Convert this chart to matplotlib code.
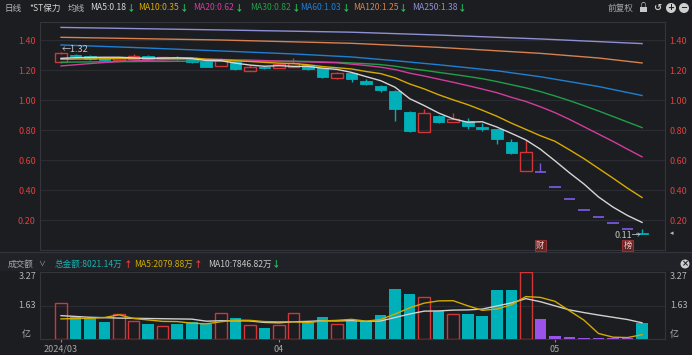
import numpy as np
import matplotlib
matplotlib.use("Agg")
import matplotlib.pyplot as plt
from matplotlib.patches import Rectangle, Circle
from matplotlib.transforms import blended_transform_factory

plt.rcParams['font.family'] = ['Noto Sans CJK SC', 'DejaVu Sans']
plt.rcParams['axes.unicode_minus'] = False

# ---- daily candles (yuan) ----
opens  = [1.255, 1.300, 1.295, 1.280, 1.267, 1.275, 1.295, 1.273, 1.282, 1.278,
          1.260, 1.227, 1.255, 1.195, 1.222, 1.215, 1.222, 1.233, 1.211, 1.144,
          1.182, 1.129, 1.096, 1.060, 0.920, 0.787, 0.893, 0.853, 0.860, 0.822,
          0.804, 0.722, 0.529, 0.520, 0.420, 0.340, 0.270, 0.220, 0.180, 0.140,
          0.115]
highs  = [1.320, 1.305, 1.300, 1.285, 1.285, 1.305, 1.300, 1.290, 1.295, 1.280,
          1.262, 1.280, 1.258, 1.233, 1.230, 1.240, 1.278, 1.236, 1.213, 1.189,
          1.184, 1.140, 1.100, 1.065, 0.925, 0.938, 0.897, 0.915, 0.880, 0.850,
          0.806, 0.740, 0.733, 0.582, 0.420, 0.340, 0.270, 0.220, 0.180, 0.140,
          0.142]
lows   = [1.250, 1.290, 1.270, 1.262, 1.262, 1.270, 1.270, 1.270, 1.270, 1.250,
          1.218, 1.225, 1.200, 1.192, 1.210, 1.212, 1.220, 1.203, 1.150, 1.142,
          1.122, 1.100, 1.055, 0.860, 0.790, 0.785, 0.850, 0.851, 0.807, 0.795,
          0.704, 0.640, 0.527, 0.520, 0.420, 0.340, 0.270, 0.220, 0.180, 0.140,
          0.110]
closes = [1.310, 1.295, 1.273, 1.267, 1.280, 1.290, 1.273, 1.285, 1.279, 1.255,
          1.222, 1.267, 1.205, 1.218, 1.215, 1.238, 1.245, 1.205, 1.156, 1.178,
          1.138, 1.104, 1.067, 0.938, 0.796, 0.911, 0.853, 0.871, 0.829, 0.809,
          0.738, 0.644, 0.651, 0.520, 0.420, 0.340, 0.270, 0.220, 0.180, 0.140,
          0.110]
limit_down = [False] * 33 + [True] * 7 + [False]

# turnover (亿)
volume = [1.75, 1.09, 1.01, 0.82, 1.21, 0.88, 0.75, 0.64, 0.75, 0.82,
          0.75, 1.26, 1.01, 0.69, 0.56, 0.69, 1.26, 0.82, 1.08, 0.72,
          0.90, 0.85, 1.18, 2.45, 2.22, 2.07, 1.37, 1.23, 1.21, 1.11,
          2.39, 2.39, 3.27, 0.98, 0.16, 0.10, 0.07, 0.06, 0.055, 0.06,
          0.802]
vol_ma5  = [0.98, 1.00, 1.01, 1.05, 1.18, 1.00, 0.93, 0.86, 0.85, 0.77,
            0.74, 0.84, 0.92, 0.91, 0.85, 0.84, 0.84, 0.80, 0.88, 0.91,
            0.96, 0.87, 0.95, 1.22, 1.52, 1.75, 1.86, 1.87, 1.62, 1.40,
            1.46, 1.67, 2.07, 2.03, 1.84, 1.38, 0.92, 0.27, 0.09, 0.07,
            0.21]
vol_ma10 = [1.14, 1.10, 1.06, 1.04, 1.02, 1.01, 1.00, 0.99, 0.98, 0.97,
            0.87, 0.89, 0.89, 0.88, 0.81, 0.79, 0.84, 0.86, 0.89, 0.88,
            0.90, 0.86, 0.88, 1.05, 1.22, 1.36, 1.37, 1.41, 1.42, 1.46,
            1.61, 1.76, 1.97, 1.82, 1.62, 1.42, 1.29, 1.17, 1.06, 0.95,
            0.79]

# price moving averages
ma5  = [1.278, 1.282, 1.284, 1.285, 1.285, 1.281, 1.277, 1.279, 1.281, 1.276,
        1.263, 1.262, 1.246, 1.233, 1.225, 1.229, 1.224, 1.224, 1.212, 1.204,
        1.184, 1.156, 1.129, 1.085, 1.009, 0.963, 0.913, 0.874, 0.852, 0.855,
        0.820, 0.778, 0.734, 0.672, 0.595, 0.515, 0.440, 0.354, 0.286, 0.230,
        0.184]
ma10 = [1.272, 1.273, 1.274, 1.275, 1.276, 1.277, 1.278, 1.279, 1.280, 1.281,
        1.272, 1.269, 1.262, 1.257, 1.251, 1.246, 1.243, 1.235, 1.223, 1.215,
        1.207, 1.190, 1.176, 1.148, 1.107, 1.074, 1.035, 1.001, 0.969, 0.932,
        0.892, 0.846, 0.804, 0.762, 0.725, 0.668, 0.609, 0.544, 0.479, 0.412,
        0.350]
ma20 = [1.227, 1.235, 1.243, 1.250, 1.256, 1.261, 1.265, 1.268, 1.270, 1.271,
        1.271, 1.270, 1.268, 1.266, 1.263, 1.260, 1.257, 1.254, 1.251, 1.248,
        1.239, 1.230, 1.219, 1.203, 1.179, 1.160, 1.139, 1.118, 1.096, 1.073,
        1.049, 1.018, 0.990, 0.955, 0.916, 0.871, 0.822, 0.773, 0.724, 0.672,
        0.621]
ma30 = [1.252, 1.253, 1.254, 1.255, 1.256, 1.256, 1.257, 1.257, 1.258, 1.258,
        1.258, 1.259, 1.259, 1.259, 1.259, 1.259, 1.259, 1.257, 1.254, 1.251,
        1.247, 1.242, 1.236, 1.225, 1.210, 1.198, 1.184, 1.171, 1.157, 1.142,
        1.123, 1.102, 1.081, 1.056, 1.027, 0.996, 0.962, 0.927, 0.890, 0.853,
        0.816]
ma60_x  = [0, 5, 11, 16, 20, 23, 26, 30, 33, 37, 40]
ma60    = [1.367, 1.350, 1.327, 1.307, 1.287, 1.262, 1.235, 1.195, 1.155, 1.090, 1.030]
ma120_x = [0, 11, 20, 26, 33, 37, 40]
ma120   = [1.418, 1.400, 1.378, 1.351, 1.311, 1.280, 1.247]
ma250_x = [0, 11, 20, 26, 33, 40]
ma250   = [1.484, 1.467, 1.452, 1.433, 1.407, 1.376]

date_ticks = [0, 15, 34]
date_labels = ['2024/03', '04', '05']
price_ticks = [0.20, 0.40, 0.60, 0.80, 1.00, 1.20, 1.40]

# ---- style ----
W, H = 692, 355
BG = '#1c1d21'
BAND = '#212227'
GRID = '#2b2c31'
SPINE = '#33353a'
UP = '#d23636'
DOWN = '#00b0b8'
LIM_P = '#7657dc'
LIM_V = '#9a52e8'
TXT = '#b4b4b4'
RED_LBL = '#e0403c'
FS = 6.5
HFS = 6.2
ma_cols = {'MA5': '#d6d6d6', 'MA10': '#d8ab00', 'MA20': '#d23c9e', 'MA30': '#1f9f48',
           'MA60': '#1f7fd2', 'MA120': '#d8804f', 'MA250': '#8f8fd6'}


def fx(px):
    return px / W


def fy(py):
    return 1 - py / H


fig = plt.figure(figsize=(W / 100, H / 100), dpi=100, facecolor=BG)
renderer = fig.canvas.get_renderer()
fig.add_artist(Rectangle((0, fy(271)), 1, fy(252) - fy(271), transform=fig.transFigure,
                         fc=BAND, ec='none'))
fig.add_artist(plt.Line2D([0, 1], [fy(252), fy(252)], transform=fig.transFigure,
                          color=SPINE, lw=0.8))

ax = fig.add_axes([fx(40), fy(250), fx(665) - fx(40), fy(22) - fy(250)])
axv = fig.add_axes([fx(40), fy(339), fx(665) - fx(40), fy(272) - fy(339)])
xlim = (-1.446, 41.58)
n = len(closes)
xs = np.arange(n)
bw = 0.8

for a in (ax, axv):
    a.set_facecolor(BG)
    a.set_xlim(*xlim)
    for s in a.spines.values():
        s.set_color(SPINE)
        s.set_linewidth(0.8)

# ---- candles ----
for i in xs:
    o, h, l, c = opens[i], highs[i], lows[i], closes[i]
    if limit_down[i]:
        ax.vlines(i, l, h, color=LIM_P, lw=1, zorder=3)
        ax.hlines(c, i - bw / 2, i + bw / 2, color=LIM_P, lw=1.3, zorder=3)
    elif c > o:
        ax.add_patch(Rectangle((i - bw / 2, o), bw, c - o, fill=False, ec=UP, lw=1, zorder=3))
        ax.vlines(i, c, h, color=UP, lw=1, zorder=3)
        ax.vlines(i, l, o, color=UP, lw=1, zorder=3)
    else:
        ax.vlines(i, l, h, color=DOWN, lw=1, zorder=2)
        ax.add_patch(Rectangle((i - bw / 2, c), bw, max(o - c, 0.004), fc=DOWN, ec=DOWN,
                               lw=0.6, zorder=3))

ax.plot(ma250_x, ma250, color=ma_cols['MA250'], lw=1, zorder=4)
ax.plot(ma120_x, ma120, color=ma_cols['MA120'], lw=1, zorder=4)
ax.plot(ma60_x, ma60, color=ma_cols['MA60'], lw=1, zorder=4)
ax.plot(xs, ma30, color=ma_cols['MA30'], lw=1, zorder=4)
ax.plot(xs, ma20, color=ma_cols['MA20'], lw=1, zorder=4)
ax.plot(xs, ma10, color=ma_cols['MA10'], lw=1, zorder=4)
ax.plot(xs, ma5, color=ma_cols['MA5'], lw=1, zorder=5)

ax.set_ylim(0, 1.52)
ax.set_yticks(price_ticks)
ax.set_yticklabels(['%.2f' % v for v in price_ticks])
ax.set_xticks([])
ax.tick_params(axis='y', length=0, labelsize=FS, labelcolor=RED_LBL, pad=3,
               labelleft=True, labelright=True)
ax.yaxis.grid(True, color=GRID, lw=0.9)
ax.set_axisbelow(True)

imax = int(np.argmax(highs))
imin = int(np.argmin(lows))
ax.text(imax + 0.05, highs[imax] + 0.018, '←%.2f' % highs[imax], color='#c4c4c4',
        fontsize=FS, ha='left', va='center', zorder=6)
ax.text(imin - 0.05, lows[imin] - 0.01, '%.2f→' % lows[imin], color='#c4c4c4',
        fontsize=FS, ha='right', va='center', zorder=6)
for idx, s in [(33, '财'), (39, '榜')]:
    ax.text(idx, 0.03, s, color='#e8c8c8', fontsize=6, ha='center', va='center', zorder=6,
            bbox=dict(boxstyle='square,pad=0.12', fc='#652424', ec='#963232', lw=0.8))
fig.text(fx(670), fy(233), '◂', color='#bcbcbc', fontsize=5, ha='left', va='center')

# ---- turnover ----
for i in xs:
    if limit_down[i]:
        axv.bar(i, volume[i], bw, color=LIM_V, zorder=3)
    elif closes[i] > opens[i]:
        axv.bar(i, volume[i], bw, fc='none', ec=UP, lw=1, zorder=3)
    else:
        axv.bar(i, volume[i], bw, color=DOWN, zorder=3)
axv.plot(xs, vol_ma10, color='#d0d0d0', lw=1, zorder=4)
axv.plot(xs, vol_ma5, color='#d2aa00', lw=1, zorder=5)
axv.set_ylim(0, 3.27)
axv.set_yticks([1.63])
axv.set_yticklabels([])
axv.tick_params(axis='y', length=0)
axv.yaxis.grid(True, color=GRID, lw=0.9)
axv.set_axisbelow(True)
axv.set_xticks(date_ticks)
axv.set_xticklabels(date_labels)
axv.tick_params(axis='x', length=2.5, color='#8a8a8a', labelsize=FS, labelcolor='#a8a8a8', pad=1.5)
tr = blended_transform_factory(axv.transAxes, axv.transData)
for xa, ha in [(-0.006, 'right'), (1.008, 'left')]:
    axv.text(xa, 3.27, '3.27', transform=tr, ha=ha, va='top', fontsize=FS, color=TXT)
    axv.text(xa, 1.63, '1.63', transform=tr, ha=ha, va='center', fontsize=FS, color=TXT)
    axv.text(xa - 0.008 if ha == 'right' else xa, 0.0, '亿', transform=tr, ha=ha,
             va='bottom', fontsize=FS, color=TXT)


# ---- header rows ----
def label_arrow(x, y, s, color, arrow, acolor):
    t = fig.text(fx(x), fy(y), s, fontsize=HFS, color=color, va='center')
    x1 = t.get_window_extent(renderer).x1
    fig.text(fx(x1 + 0.5), fy(y), arrow, fontsize=HFS, color=acolor, va='center',
             fontweight='bold')


fig.text(fx(5), fy(8), '日线', fontsize=HFS, color='#b8b8b8', va='center')
fig.text(fx(29), fy(8), '*ST保力', fontsize=HFS, color='#d4d4d4', va='center')
fig.text(fx(68), fy(8), '均线', fontsize=HFS, color='#b8b8b8', va='center')
heads = [('MA5', ma5[-1], 90), ('MA10', ma10[-1], 138), ('MA20', ma20[-1], 193),
         ('MA30', ma30[-1], 250), ('MA60', ma60[-1], 300),
         ('MA120', ma120[-1], 353), ('MA250', ma250[-1], 412)]
for name, val, xt in heads:
    label_arrow(xt, 8, '%s:%.2f' % (name, val), ma_cols[name], '↓', '#22c55e')
fig.text(fx(608), fy(8), '前复权', fontsize=HFS, color='#a8a8a8', va='center')
fig.add_artist(Rectangle((fx(640), fy(12)), fx(7), fy(7) - fy(12), transform=fig.transFigure,
                         fc='#c8c8c8', ec='none'))
fig.text(fx(643.5), fy(5), '∩', fontsize=5, color='#c8c8c8', ha='center', va='center')
fig.text(fx(657), fy(8), '↺', fontsize=7, color='#c8c8c8', ha='center', va='center',
         fontweight='bold')
for cx, sym in [(671, '+'), (684, '−')]:
    fig.add_artist(Circle((cx / 100, (H - 8) / 100), 0.05, transform=fig.dpi_scale_trans,
                          fc='#cfcfcf', ec='none'))
    fig.text(fx(cx), fy(8), sym, fontsize=6, color=BG, ha='center', va='center',
             fontweight='bold', family='DejaVu Sans')

fig.text(fx(8), fy(264), '成交额', fontsize=HFS, color='#a8a8a8', va='center')
fig.text(fx(38), fy(264), '∨', fontsize=5, color='#a8a8a8', va='center')
label_arrow(55, 264, '总金额:8021.14万', '#18b2b2', '↑', '#e83a3a')
label_arrow(134, 264, 'MA5:2079.88万', '#d2aa00', '↑', '#e83a3a')
label_arrow(208, 264, 'MA10:7846.82万', '#c8c8c8', '↓', '#22c55e')
fig.add_artist(Circle((685 / 100, (H - 264) / 100), 0.045, transform=fig.dpi_scale_trans,
                      fc='#cfcfcf', ec='none'))
fig.text(fx(685), fy(264), '×', fontsize=6, color=BG, ha='center', va='center',
         fontweight='bold', family='DejaVu Sans')

fig.savefig('out.png', dpi=100, facecolor=BG)
